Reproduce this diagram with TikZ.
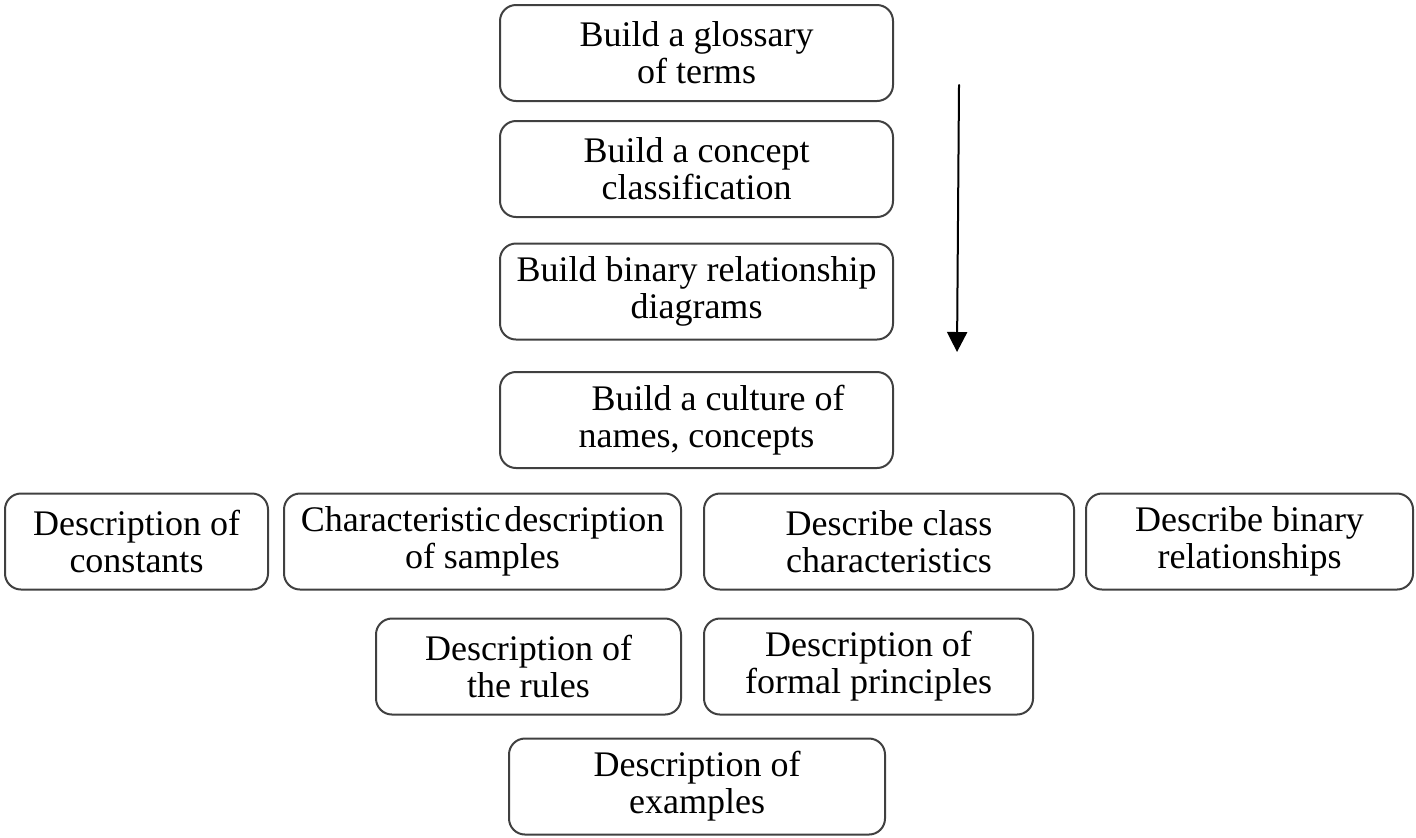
\documentclass[tikz,border=0pt]{standalone}
\usepackage{fontspec}
\setmainfont{Liberation Serif}
\usepackage{tikz}
\usetikzlibrary{arrows.meta}

\begin{document}
\begin{tikzpicture}[line cap=round,line join=round,>={Triangle[length=10pt,width=10pt]},x=0.5pt,y=0.5pt,
  box/.style={draw=black!75,line width=1pt,rounded corners=8pt,align=center,inner sep=0pt,minimum height=48pt,
    font=\fontsize{18}{18.5}\selectfont}]
\useasboundingbox (0,0) rectangle (1416,-837);
\node[box,minimum width=196.5pt] (glossary) at (696.5,-53) {Build a glossary\\of terms};
\node[box,minimum width=196.5pt] (classif) at (696.5,-169) {Build a concept\\classification};
\node[box,minimum width=196.5pt] (binary) at (696.5,-291.5) {Build binary relationship\\diagrams};
\node[box,minimum width=196.5pt] (culture) at (696.5,-420) {\hspace{1.2em}Build a culture of\\names, concepts};
\node[box,minimum width=131.5pt] (constants) at (136.5,-541.5) {Description of\\constants};
\node[box,minimum width=198.5pt] (samples) at (482.5,-541.5) {Characteristic\hspace{0.1em}description\\of samples};
\node[box,minimum width=185pt] (classchar) at (889,-541.5) {Describe class\\characteristics};
\node[box,minimum width=163.5pt] (binrel) at (1249.5,-541.5) {Describe binary\\relationships};
\node[box,minimum width=152.5pt] (rules) at (528.5,-666.5) {Description of\\the rules};
\node[box,minimum width=164.5pt] (formal) at (868.5,-666.5) {Description of\\formal principles};
\node[box,minimum width=188pt] (examples) at (697,-786.5) {Description of\\examples};
\coordinate (top) at (959,-85);
\coordinate (bottom) at (957,-352);
\draw [line width=1pt,->] (top) -- (bottom);
\end{tikzpicture}
\end{document}
